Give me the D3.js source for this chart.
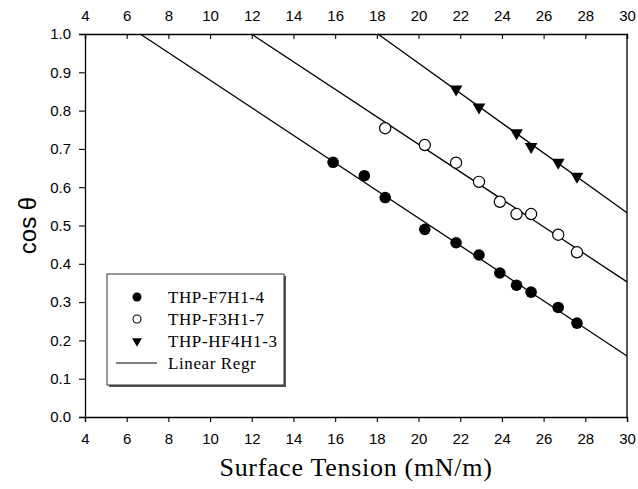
<!DOCTYPE html>
<html>
<head>
<meta charset="utf-8">
<script src="https://cdn.jsdelivr.net/npm/d3@7"></script>
<style>
  body { margin: 0; background: #fff; }
  .tick text { font-family: "Liberation Sans", Arial, sans-serif; font-size: 15px; fill: #000; }
</style>
</head>
<body>
<div id="chart"></div>
<script>
// surface tension (mN/m) vs cos theta
var f7h1X = [15.9, 17.4, 18.4, 20.3, 21.8, 22.9, 23.9, 24.7, 25.4, 26.7, 27.6];
var f7h1Y = [0.665, 0.630, 0.573, 0.490, 0.455, 0.423, 0.376, 0.344, 0.326, 0.286, 0.245];

var f3h1X = [18.4, 20.3, 21.8, 22.9, 23.9, 24.7, 25.4, 26.7, 27.6];
var f3h1Y = [0.754, 0.710, 0.664, 0.614, 0.562, 0.530, 0.530, 0.476, 0.430];

var hf4h1X = [21.8, 22.9, 24.7, 25.4, 26.7, 27.6];
var hf4h1Y = [0.856, 0.809, 0.742, 0.706, 0.665, 0.628];

var legendNames = ["THP-F7H1-4", "THP-F3H1-7", "THP-HF4H1-3", "Linear Regr"];

var xTicks = [4, 6, 8, 10, 12, 14, 16, 18, 20, 22, 24, 26, 28, 30];
var yTicks = [0, 0.1, 0.2, 0.3, 0.4, 0.5, 0.6, 0.7, 0.8, 0.9, 1.0];

var margin = {top: 34, right: 11, bottom: 72, left: 85},
    width = 638 - margin.left - margin.right,
    height = 489 - margin.top - margin.bottom;

var svg = d3.select("#chart")
    .append("svg")
    .attr("width", 638)
    .attr("height", 489)
    .append("g")
    .attr("transform", "translate(" + margin.left + "," + margin.top + ")");

var x = d3.scaleLinear().domain([4, 30]).range([0, width]);
var y = d3.scaleLinear().domain([0, 1]).range([height, 0]);

function pairs(xs, ys) {
    return xs.map(function(v, i) { return {x: v, y: ys[i]}; });
}
var series = [pairs(f7h1X, f7h1Y), pairs(f3h1X, f3h1Y), pairs(hf4h1X, hf4h1Y)];

// least squares line, clipped to the plot box
function regr(pts) {
    var mx = d3.mean(pts, function(d) { return d.x; }),
        my = d3.mean(pts, function(d) { return d.y; });
    var sxy = d3.sum(pts, function(d) { return (d.x - mx) * (d.y - my); }),
        sxx = d3.sum(pts, function(d) { return (d.x - mx) * (d.x - mx); });
    var b = sxy / sxx, a = my - b * mx;
    var x0 = Math.max(4, (1 - a) / b);
    return [{x: x0, y: a + b * x0}, {x: 30, y: a + b * 30}];
}

var line = d3.line()
    .x(function(d) { return x(d.x); })
    .y(function(d) { return y(d.y); });

series.forEach(function(s) {
    svg.append("path")
        .datum(regr(s))
        .attr("fill", "none")
        .attr("stroke", "#000")
        .attr("stroke-width", 1.3)
        .attr("d", line);
});

// axes
var xAxisB = svg.append("g")
    .attr("transform", "translate(0," + height + ")")
    .call(d3.axisBottom(x).tickValues(xTicks).tickSize(5).tickPadding(11).tickFormat(d3.format("d")));
var xAxisT = svg.append("g")
    .call(d3.axisTop(x).tickValues(xTicks).tickSize(-5).tickPadding(13).tickFormat(d3.format("d")));
var yAxisL = svg.append("g")
    .call(d3.axisLeft(y).tickValues(yTicks).tickSize(6).tickPadding(8).tickFormat(d3.format(".1f")));
svg.append("line")
    .attr("x1", width).attr("x2", width)
    .attr("y1", 0).attr("y2", height)
    .attr("stroke", "#000").attr("stroke-width", 1.3);

[xAxisB, xAxisT, yAxisL].forEach(function(g) {
    g.select(".domain").attr("stroke-width", 1.3);
    g.selectAll(".tick line").attr("stroke-width", 1.1);
});

// markers
var tri = d3.symbol().type(d3.symbolTriangle);

svg.selectAll(".f7")
    .data(series[0]).enter()
    .append("circle")
    .attr("cx", function(d) { return x(d.x); })
    .attr("cy", function(d) { return y(d.y); })
    .attr("r", 5.8)
    .attr("fill", "#000");

svg.selectAll(".f3")
    .data(series[1]).enter()
    .append("circle")
    .attr("cx", function(d) { return x(d.x); })
    .attr("cy", function(d) { return y(d.y); })
    .attr("r", 5.6)
    .attr("fill", "#fff")
    .attr("stroke", "#000")
    .attr("stroke-width", 1.2);

svg.selectAll(".hf4")
    .data(series[2]).enter()
    .append("path")
    .attr("d", tri.size(70))
    .attr("transform", function(d) { return "translate(" + x(d.x) + "," + y(d.y) + ") rotate(180)"; })
    .attr("fill", "#000");

// legend
var lg = svg.append("g").attr("transform", "translate(" + (107 - margin.left) + "," + (274 - margin.top) + ")");
lg.append("rect")
    .attr("x", 2).attr("y", 2).attr("width", 177).attr("height", 111)
    .attr("fill", "#555");
lg.append("rect")
    .attr("width", 177).attr("height", 111)
    .attr("fill", "#fff").attr("stroke", "#333").attr("stroke-width", 1);

var rowY = [23, 45, 67, 89];
lg.selectAll(".lbl")
    .data(legendNames).enter()
    .append("text")
    .attr("x", 61)
    .attr("y", function(d, i) { return rowY[i] + 6; })
    .attr("font-family", "'Liberation Serif', 'Times New Roman', serif")
    .attr("font-size", 17)
    .attr("letter-spacing", 0.6)
    .text(function(d) { return d; });

lg.append("circle").attr("cx", 30).attr("cy", rowY[0]).attr("r", 4.5).attr("fill", "#000");
lg.append("circle").attr("cx", 30).attr("cy", rowY[1]).attr("r", 4).attr("fill", "#fff")
    .attr("stroke", "#000").attr("stroke-width", 1.1);
lg.append("path").attr("d", tri.size(42))
    .attr("transform", "translate(30," + rowY[2] + ") rotate(180)").attr("fill", "#000");
lg.append("line").attr("x1", 9).attr("x2", 50).attr("y1", rowY[3]).attr("y2", rowY[3])
    .attr("stroke", "#000").attr("stroke-width", 1);

// axis titles
svg.append("text")
    .attr("x", width / 2)
    .attr("y", height + 59)
    .attr("text-anchor", "middle")
    .attr("font-family", "'Liberation Serif', 'Times New Roman', serif")
    .attr("font-size", 26)
    .attr("letter-spacing", 0.7)
    .text("Surface Tension (mN/m)");

svg.append("text")
    .attr("transform", "translate(" + (-margin.left + 36) + "," + (height / 2) + ") rotate(-90)")
    .attr("text-anchor", "middle")
    .attr("font-family", "'Liberation Sans', Arial, sans-serif")
    .attr("font-size", 24)
    .text("cos \u03b8");
</script>
</body>
</html>
